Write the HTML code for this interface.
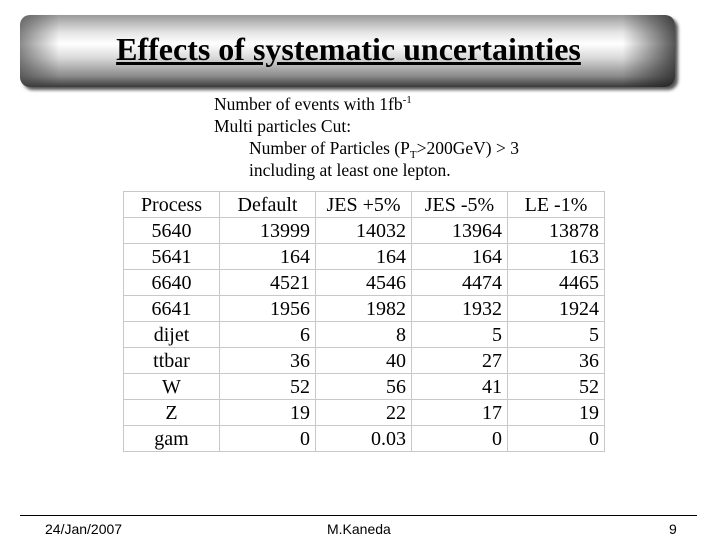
<!DOCTYPE html>
<html><head><meta charset="utf-8">
<style>
html,body{margin:0;padding:0;background:#fff;}
#slide{position:relative;width:720px;height:540px;overflow:hidden;background:#fff;font-family:"Liberation Serif",serif;}
#banner{position:absolute;left:20px;top:15px;width:655px;height:72px;border-radius:10px;
background:linear-gradient(to bottom,#9a9a9a 0%,#e6e6e6 25%,#ffffff 40%,#d8d8d8 60%,#8a8a8a 85%,#3a3a3a 100%);
box-shadow:3px 3px 3px #555;}
#banner:after{content:"";position:absolute;inset:0;border-radius:10px;
background:linear-gradient(to right,rgba(60,60,60,.6) 0%,rgba(255,255,255,0) 6%,rgba(255,255,255,0) 92%,rgba(30,30,30,.75) 100%);}
#title{position:absolute;left:0;top:32px;width:697px;text-align:center;font-size:32px;font-weight:bold;text-decoration:underline;color:#000;z-index:2;line-height:34px;}
.t{position:absolute;font-size:17.5px;line-height:20px;height:20px;color:#000;white-space:nowrap;}
.t sup,.t sub{font-size:11px;line-height:0;position:relative;vertical-align:baseline;}
.t sup{top:-7px;} .t sub{top:4px;}
table{position:absolute;left:123px;top:191px;border-collapse:collapse;font-size:20px;}
td{border:1px solid #c8c8c8;height:26px;padding:0 5px;box-sizing:border-box;text-align:right;line-height:24px;}
td.c{text-align:center;}
#footline{position:absolute;left:20px;top:515px;width:677px;height:1px;background:#000;}
.f{position:absolute;top:521px;font-family:"Liberation Sans",sans-serif;font-size:14px;color:#000;}
</style></head><body>
<div id="slide">
<div id="banner"></div>
<div id="title">Effects of systematic uncertainties</div>
<div class="t" style="left:214px;top:94px">Number of events with 1fb<sup>-1</sup></div>
<div class="t" style="left:214px;top:116px">Multi particles Cut:</div>
<div class="t" style="left:249px;top:138px">Number of Particles (P<sub>T</sub>&gt;200GeV) &gt; 3</div>
<div class="t" style="left:249px;top:160px">including at least one lepton.</div>
<table>
<colgroup><col style="width:96px"><col style="width:96px"><col style="width:96px"><col style="width:96px"><col style="width:97px"></colgroup>
<tr><td class="c">Process</td><td class="c">Default</td><td class="c">JES +5%</td><td class="c">JES -5%</td><td class="c">LE -1%</td></tr>
<tr><td class="c">5640</td><td>13999</td><td>14032</td><td>13964</td><td>13878</td></tr>
<tr><td class="c">5641</td><td>164</td><td>164</td><td>164</td><td>163</td></tr>
<tr><td class="c">6640</td><td>4521</td><td>4546</td><td>4474</td><td>4465</td></tr>
<tr><td class="c">6641</td><td>1956</td><td>1982</td><td>1932</td><td>1924</td></tr>
<tr><td class="c">dijet</td><td>6</td><td>8</td><td>5</td><td>5</td></tr>
<tr><td class="c">ttbar</td><td>36</td><td>40</td><td>27</td><td>36</td></tr>
<tr><td class="c">W</td><td>52</td><td>56</td><td>41</td><td>52</td></tr>
<tr><td class="c">Z</td><td>19</td><td>22</td><td>17</td><td>19</td></tr>
<tr><td class="c">gam</td><td>0</td><td>0.03</td><td>0</td><td>0</td></tr>
</table>
<div id="footline"></div>
<div class="f" style="left:45px">24/Jan/2007</div>
<div class="f" style="left:327px">M.Kaneda</div>
<div class="f" style="left:669px">9</div>
</div>
</body></html>
